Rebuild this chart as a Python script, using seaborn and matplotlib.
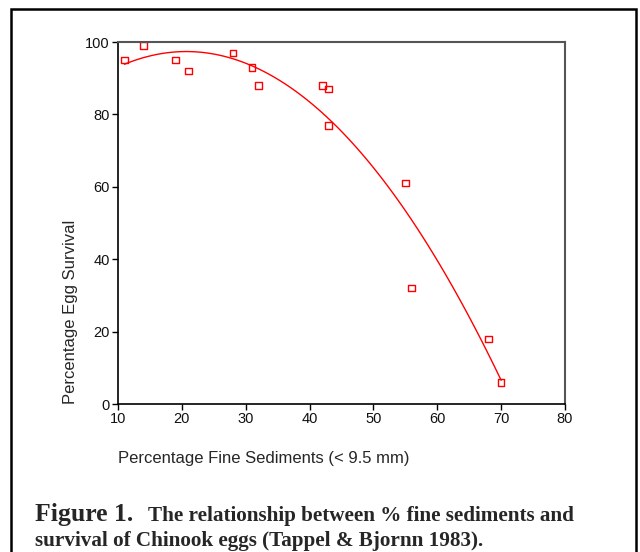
import matplotlib
matplotlib.use("Agg")
import matplotlib.pyplot as plt
import seaborn as sns
import pandas as pd
from matplotlib.patches import Rectangle

# Data
fine_sediments = [11, 14, 19, 21, 28, 31, 32, 42, 43, 43, 55, 56, 68, 70]
egg_survival = [95, 99, 95, 92, 97, 93, 88, 88, 87, 77, 61, 32, 18, 6]
x_ticks = [10, 20, 30, 40, 50, 60, 70, 80]
y_ticks = [0, 20, 40, 60, 80, 100]

df = pd.DataFrame({"x": fine_sediments, "y": egg_survival})

sns.set_style("white")
plt.rcParams["font.family"] = ["Liberation Sans", "DejaVu Sans"]

fig = plt.figure(figsize=(6.4, 5.52), dpi=100)
ax = fig.add_axes([118 / 640, 1 - 404 / 552, (565 - 118) / 640, (404 - 42) / 552])

sns.regplot(data=df, x="x", y="y", order=2, ci=None, ax=ax,
            scatter=False, line_kws={"color": "#ff0000", "lw": 1.0})
sns.scatterplot(data=df, x="x", y="y", ax=ax, marker="s", s=22,
                facecolor="none", edgecolor="#ff0000", linewidth=1.0)

ax.set_xlim(10, 80)
ax.set_ylim(0, 100)
ax.set_xticks(x_ticks)
ax.set_yticks(y_ticks)
ax.set_xlabel("")
ax.set_ylabel("")
ax.tick_params(axis="both", which="both", direction="out", length=4, width=1,
               color="black", labelsize=10.5, pad=2, bottom=True, left=True,
               labelcolor="#111111")
for side in ["left", "bottom"]:
    ax.spines[side].set_color("black")
    ax.spines[side].set_linewidth(1.2)
for side in ["top", "right"]:
    ax.spines[side].set_visible(True)
    ax.spines[side].set_color("#555555")
    ax.spines[side].set_linewidth(1.5)

fig.text(264 / 640, 1 - 458 / 552, "Percentage Fine Sediments (< 9.5 mm)",
         ha="center", va="center", fontsize=12)
fig.text(70 / 640, 1 - 312 / 552, "Percentage Egg Survival", rotation=90,
         ha="center", va="center", fontsize=12)

fig.text(35 / 640, 1 - 514 / 552, r"Figure 1.", family="Liberation Serif",
         fontweight="bold", fontsize=18.5, ha="left", va="center")
fig.text(148 / 640, 1 - 516 / 552,
         "The relationship between % fine sediments and",
         family="Liberation Serif", fontweight="bold", fontsize=15.2,
         ha="left", va="center")
fig.text(35 / 640, 1 - 541 / 552,
         "survival of Chinook eggs (Tappel & Bjornn 1983).",
         family="Liberation Serif", fontweight="bold", fontsize=15.2,
         ha="left", va="center")

border = Rectangle((11 / 640, -0.05), (636 - 11) / 640, 1 - 9 / 552 + 0.05,
                   transform=fig.transFigure, fill=False, edgecolor="black",
                   linewidth=1.8, clip_on=False)
fig.patches.append(border)

fig.savefig("out.png", dpi=100)
